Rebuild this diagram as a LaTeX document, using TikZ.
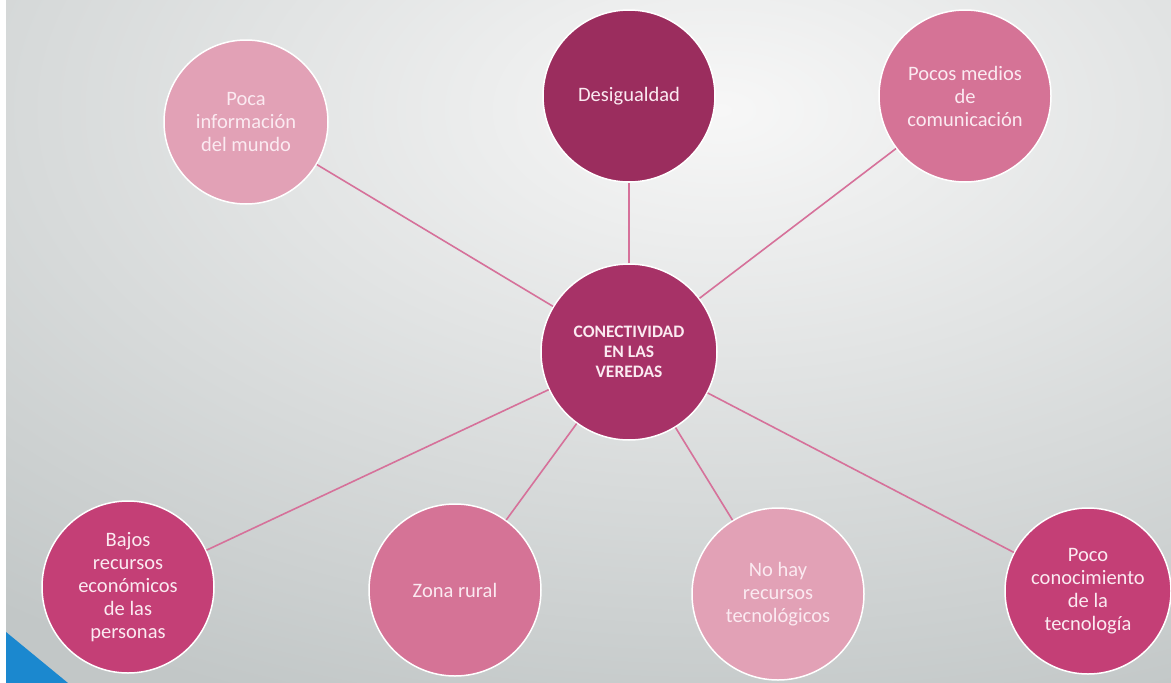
\documentclass[tikz,border=0pt]{standalone}
\usepackage{fontspec}
\setmainfont{Carlito}

\definecolor{paleRose}{HTML}{E2A1B6}
\definecolor{midRose}{HTML}{D57396}
\definecolor{deepRose}{HTML}{C43F76}
\definecolor{wine}{HTML}{9B2D5E}
\definecolor{hubRose}{HTML}{A73267}
\definecolor{linkRose}{HTML}{D6719A}
\definecolor{petal}{HTML}{FBEAF1}
\definecolor{cornerBlue}{HTML}{1B88CF}
\definecolor{glow}{HTML}{F7F7F7}
\definecolor{haze}{HTML}{C2C7C7}

\begin{document}
\begin{tikzpicture}[x=1pt, y=-1pt, thick,
    main/.style = {draw=white, line width=1.5pt, circle, minimum size=172pt, inner sep=0pt,
                   align=center, text=petal, font=\fontsize{20.5}{23}\selectfont},
    hub/.style = {main, fill=hubRose, minimum size=176pt, font=\fontsize{17.5}{20}\selectfont\bfseries},
    link/.style = {draw=linkRose, line width=1.6pt}]
    \useasboundingbox (0,0) rectangle (1171,683);
    % background
    \begin{scope}
      \clip (0,0) rectangle (1171,683);
      \fill[haze] (0,0) rectangle (1171,683);
      \shade[inner color=glow, outer color=haze] (720,110) ellipse (1150 and 640);
    \end{scope}
    \fill[white] (0,0) rectangle (6,683);
    \fill[cornerBlue] (6,632) -- (68,683) -- (6,683) -- cycle;

    \node[hub] (c) at (629,352) {CONECTIVIDAD\\EN LAS\\VEREDAS};
    \node[main, fill=paleRose, minimum size=164pt] (1) at (246,122) {Poca\\información\\del mundo};
    \node[main, fill=wine] (2) at (629,96) {Desigualdad};
    \node[main, fill=midRose] (3) at (965,96) {Pocos medios\\de\\comunicación};
    \node[main, fill=deepRose] (4) at (128,587) {Bajos\\recursos\\económicos\\de las\\personas};
    \node[main, fill=midRose] (5) at (455,590) {Zona rural};
    \node[main, fill=paleRose] (6) at (778,594) {No hay\\recursos\\tecnológicos};
    \node[main, fill=deepRose, minimum size=166pt] (7) at (1088,591) {Poco\\conocimiento\\de la\\tecnología};

    \path
    (c) edge[link] (1)
    (c) edge[link] (2)
    (c) edge[link] (3)
    (c) edge[link] (4)
    (c) edge[link] (5)
    (c) edge[link] (6)
    (c) edge[link] (7)
    ;
\end{tikzpicture}
\end{document}
